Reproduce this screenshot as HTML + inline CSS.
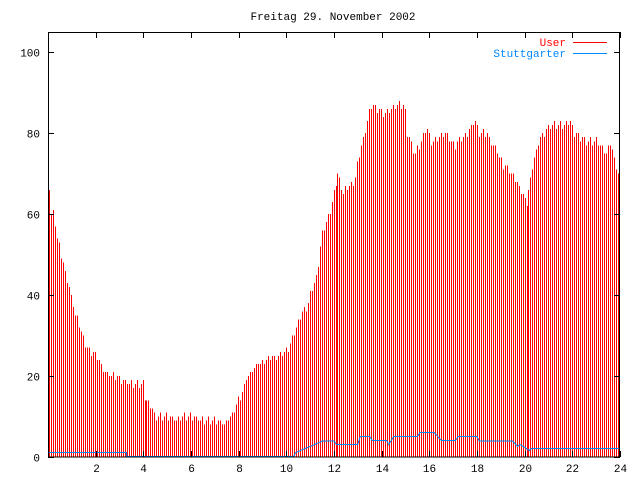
<!DOCTYPE html>
<html><head><meta charset="utf-8"><style>
html,body{margin:0;padding:0;background:#fff;}
svg{display:block;font-family:"Liberation Mono",monospace;font-size:11px;}
</style></head><body>
<svg id="s" width="640" height="480" xmlns="http://www.w3.org/2000/svg" shape-rendering="crispEdges">
<rect x="0" y="0" width="640" height="480" fill="#fff"/>
<g id="bars"></g>
<rect x="48.5" y="32.5" width="571" height="424.5" fill="none" stroke="#000" stroke-width="1"/>
<g id="ticks" stroke="#000"></g>
<text x="333" y="20" text-anchor="middle">Freitag 29. November 2002</text>
<text x="566" y="46" text-anchor="end" fill="#f00">User</text>
<line x1="573" y1="42.5" x2="607" y2="42.5" stroke="#f00"/>
<text x="566" y="57" text-anchor="end" fill="#08f">Stuttgarter</text>
<line x1="573" y1="53.5" x2="607" y2="53.5" stroke="#08f"/>
<g id="lab"></g>
</svg>
<script>
var X0=48,X1=620,Y0=457,sc=(457-32)/105;
function xp(h){return X0+h*(X1-X0)/24;}
function yp(v){return Y0-v*sc;}
var P=[[0,67],[0.05,60],[0.2,60],[0.3,55],[0.5,50],[0.7,45],[0.9,40],[1.1,35],[1.3,32],[1.5,28],[1.7,26],[2,25],[2.3,21],[2.7,20],[3,19],[3.3,18],[3.95,18],[4,15],[4.2,13],[4.5,10],[5,10],[5.2,9],[5.6,10],[6,10],[6.5,9],[7,9],[7.3,8],[7.6,10],[8,15],[8.3,20],[8.7,23],[9,24],[9.5,25],[10,27],[10.2,30],[10.5,35],[10.8,37],[11,42],[11.2,45],[11.4,55],[11.6,58],[11.8,62],[12,68],[12.1,70],[12.3,65],[12.5,67],[12.8,68],[13,75],[13.3,82],[13.5,87],[14,85],[14.5,87],[14.9,87],[15,80],[15.3,75],[15.6,78],[15.8,81],[16,78],[16.5,80],[17,77],[17.5,80],[17.8,83],[18,80],[18.3,80],[18.6,77],[19,72],[19.4,70],[19.8,65],[20,63],[20.2,70],[20.5,78],[21,82],[21.5,82],[21.8,83],[22,80],[22.5,78],[23,78],[23.3,75],[23.5,78],[23.8,70],[24,70]];
function f(h){for(var i=1;i<P.length;i++){if(h<=P[i][0]){var a=P[i-1],b=P[i];return a[1]+(b[1]-a[1])*(h-a[0])/(b[0]-a[0]);}}return 70;}
var s="";
for(var i=0;i<288;i++){var h=i/12;var x=Math.round(49+i*573/288)+0.5;if(x>619.5)x=619.5;var v=Math.round(f(h)+((i*7)%3-1)*0.6);
s+='<line x1="'+x+'" y1="'+Y0+'" x2="'+x+'" y2="'+yp(v).toFixed(1)+'" stroke="#f00"/>';}
var B=[[0,1],[3.3,1],[3.3,0],[10.3,0],[10.4,1],[10.8,2],[11.2,3],[11.5,3.8],[12,3.8],[12.1,3],[13,3],[13.1,4.9],[13.5,4.9],[13.6,4],[14.2,4],[14.3,3],[14.5,4.9],[15.5,4.9],[15.6,5.9],[16.2,5.9],[16.5,4],[17.1,4],[17.2,4.9],[18,4.9],[18.1,3.8],[19.5,3.8],[19.7,2.5],[19.8,3],[20.2,1.5],[20.3,2],[24,2]];
var d="";for(var j=0;j<B.length;j++){d+=(j?"L":"M")+xp(B[j][0]).toFixed(1)+" "+(yp(B[j][1])-0.5).toFixed(1);}
s+='<path d="'+d+'" fill="none" stroke="#08f" stroke-width="1"/>';
document.getElementById("bars").innerHTML=s;
var t="",l="";
for(var k=0;k<=12;k++){var x=Math.round(xp(2*k))+0.5;t+='<line x1="'+x+'" y1="457" x2="'+x+'" y2="451"/><line x1="'+x+'" y1="32" x2="'+x+'" y2="38"/>';
if(k>0)l+='<text x="'+x+'" y="472" text-anchor="middle">'+(2*k)+'</text>';}
for(var v=0;v<=100;v+=20){var y=Math.round(yp(v))+0.5;t+='<line x1="48" y1="'+y+'" x2="54" y2="'+y+'"/><line x1="620" y1="'+y+'" x2="614" y2="'+y+'"/>';
l+='<text x="40" y="'+(y+4)+'" text-anchor="end">'+v+'</text>';}
document.getElementById("ticks").innerHTML=t;document.getElementById("lab").innerHTML=l;
</script>
</body></html>
